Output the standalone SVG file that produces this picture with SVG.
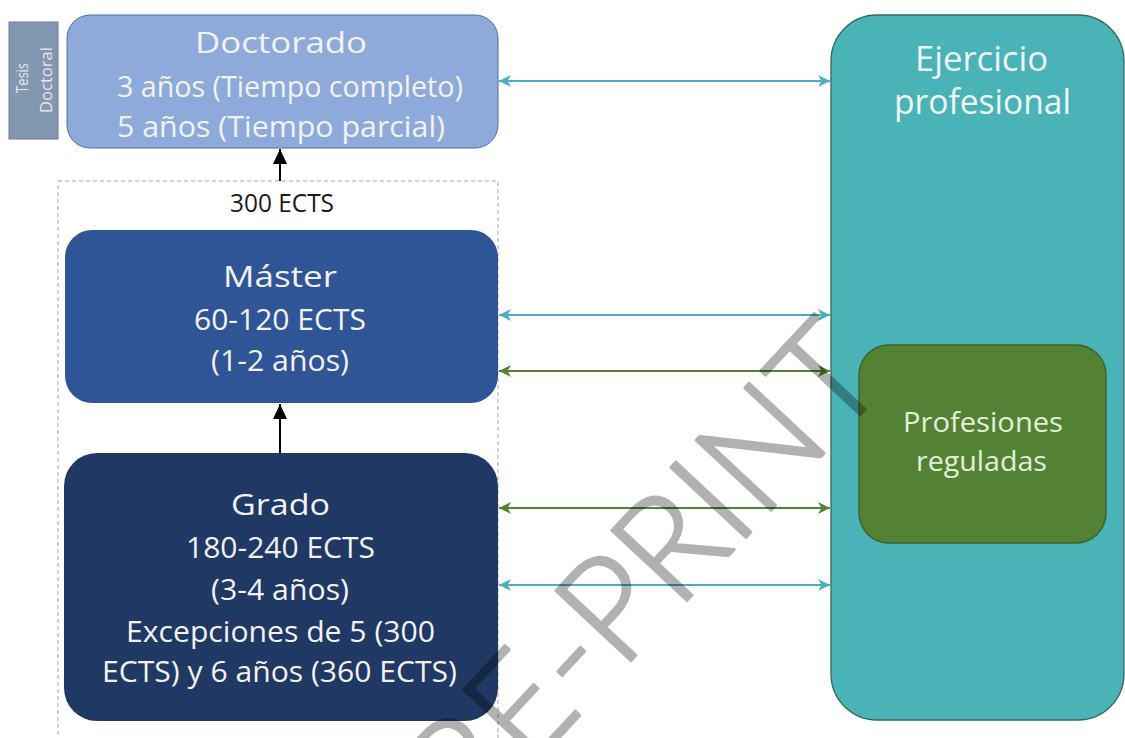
<svg xmlns="http://www.w3.org/2000/svg" width="1125" height="738" viewBox="0 0 1125 738">
<defs>
<style>
.t{font-family:"Open Sans","Noto Sans","Liberation Sans",sans-serif}
.w{fill:#f2f2f2}
.big{font-size:30px}
.conn line{fill:none}
.teal{stroke:#4aaec0;stroke-width:2}
.green{stroke:#548235;stroke-width:2}
.blk{stroke:#000;stroke-width:2}
</style>
<marker id="aTeal" markerUnits="userSpaceOnUse" markerWidth="13" markerHeight="13" refX="12" refY="6.5" orient="auto-start-reverse" viewBox="0 0 13 13">
<path d="M0,0.5 L12,6.5 L0,12.5 L3.5,6.5 z" fill="#4aaec0"/>
</marker>
<marker id="aGreen" markerUnits="userSpaceOnUse" markerWidth="13" markerHeight="13" refX="12" refY="6.5" orient="auto-start-reverse" viewBox="0 0 13 13">
<path d="M0,0.5 L12,6.5 L0,12.5 L3.5,6.5 z" fill="#548235"/>
</marker>
<marker id="aBlk" markerUnits="userSpaceOnUse" markerWidth="15" markerHeight="14" refX="15" refY="7" orient="auto" viewBox="0 0 15 14">
<path d="M0,0 L15,7 L0,14 z" fill="#000"/>
</marker>
</defs>
<rect width="1125" height="738" fill="#ffffff"/>

<g id="frame">
<rect x="58" y="181" width="440" height="600" fill="none" stroke="#9fa5c8" stroke-width="1" stroke-dasharray="4,3"/>
</g>

<g id="ejercicio">
<rect x="831" y="15" width="293" height="705" rx="46" fill="#4ab3b8" stroke="#33695a" stroke-width="1.3"/>
<text class="t" x="915" y="71" font-size="35" textLength="133" lengthAdjust="spacingAndGlyphs" fill="#eef7f4">Ejercicio</text>
<text class="t" x="894" y="114" font-size="35" textLength="177" lengthAdjust="spacingAndGlyphs" fill="#eef7f4">profesional</text>
</g>

<g id="profesiones">
<rect x="859" y="345" width="247" height="198" rx="30" fill="#548235" stroke="#3c5f27" stroke-width="1.3"/>
<text class="t" x="903" y="432" font-size="28" textLength="160" lengthAdjust="spacingAndGlyphs" fill="#e2f0d9">Profesiones</text>
<text class="t" x="916" y="471" font-size="28" textLength="131" lengthAdjust="spacingAndGlyphs" fill="#e2f0d9">reguladas</text>
</g>

<g id="tesis">
<rect x="9" y="22" width="49" height="117" fill="#8497b0" stroke="#6a7d99" stroke-width="1"/>
<text class="t" transform="translate(28,78) rotate(-90)" x="0" y="0" font-size="16" text-anchor="middle" textLength="30" lengthAdjust="spacingAndGlyphs" fill="#e4e8ee">Tesis</text>
<text class="t" transform="translate(52,80) rotate(-90)" x="0" y="0" font-size="16" text-anchor="middle" textLength="66" lengthAdjust="spacingAndGlyphs" fill="#e4e8ee">Doctoral</text>
</g>

<g id="doctorado">
<rect x="67" y="15" width="431" height="133" rx="23" fill="#8eaadb" stroke="#4d6ea8" stroke-width="1"/>
<text class="t big w" x="195" y="53" textLength="172" lengthAdjust="spacingAndGlyphs">Doctorado</text>
<text class="t big w" x="117" y="97" textLength="346" lengthAdjust="spacingAndGlyphs">3 años (Tiempo completo)</text>
<text class="t big w" x="117" y="137" textLength="328" lengthAdjust="spacingAndGlyphs">5 años (Tiempo parcial)</text>
</g>

<g id="ects300">
<text class="t" x="230" y="212" font-size="25" textLength="104" lengthAdjust="spacingAndGlyphs" fill="#1a1a1a">300 ECTS</text>
</g>

<g id="master">
<rect x="65" y="230" width="433" height="173" rx="27" fill="#2f5597"/>
<text class="t big w" x="223" y="287" textLength="114" lengthAdjust="spacingAndGlyphs">Máster</text>
<text class="t big w" x="194" y="330" textLength="172" lengthAdjust="spacingAndGlyphs">60-120 ECTS</text>
<text class="t big w" x="211" y="371" textLength="138" lengthAdjust="spacingAndGlyphs">(1-2 años)</text>
</g>

<g id="grado">
<rect x="64" y="453" width="434" height="268" rx="33" fill="#203864"/>
<text class="t big w" x="231" y="515" textLength="99" lengthAdjust="spacingAndGlyphs">Grado</text>
<text class="t big w" x="186" y="558" textLength="189" lengthAdjust="spacingAndGlyphs">180-240 ECTS</text>
<text class="t big w" x="211" y="600" textLength="138" lengthAdjust="spacingAndGlyphs">(3-4 años)</text>
<text class="t big w" x="126" y="642" textLength="309" lengthAdjust="spacingAndGlyphs">Excepciones de 5 (300</text>
<text class="t big w" x="102" y="682" textLength="355" lengthAdjust="spacingAndGlyphs">ECTS) y 6 años (360 ECTS)</text>
</g>

<g id="connectors" class="conn">
<line class="blk" x1="280" y1="181" x2="280" y2="149" marker-end="url(#aBlk)"/>
<line class="blk" x1="280" y1="453" x2="280" y2="404" marker-end="url(#aBlk)"/>
<line class="teal" x1="499" y1="81" x2="830" y2="81" marker-start="url(#aTeal)" marker-end="url(#aTeal)"/>
<line class="teal" x1="499" y1="315" x2="830" y2="315" marker-start="url(#aTeal)" marker-end="url(#aTeal)"/>
<line class="green" x1="499" y1="371" x2="830" y2="371" marker-start="url(#aGreen)" marker-end="url(#aGreen)"/>
<line class="green" x1="499" y1="508" x2="830" y2="508" marker-start="url(#aGreen)" marker-end="url(#aGreen)"/>
<line class="teal" x1="499" y1="585" x2="830" y2="585" marker-start="url(#aTeal)" marker-end="url(#aTeal)"/>
</g>

<g id="watermark" opacity="0.3">
<text transform="translate(652,638) rotate(-47)" x="0" y="0" text-anchor="middle" font-family="Lato,'Liberation Sans',sans-serif" font-weight="300" font-size="145" textLength="700" lengthAdjust="spacingAndGlyphs" fill="#000" stroke="#000" stroke-width="3" stroke-linejoin="round">PRE-PRINT</text>
</g>
</svg>
